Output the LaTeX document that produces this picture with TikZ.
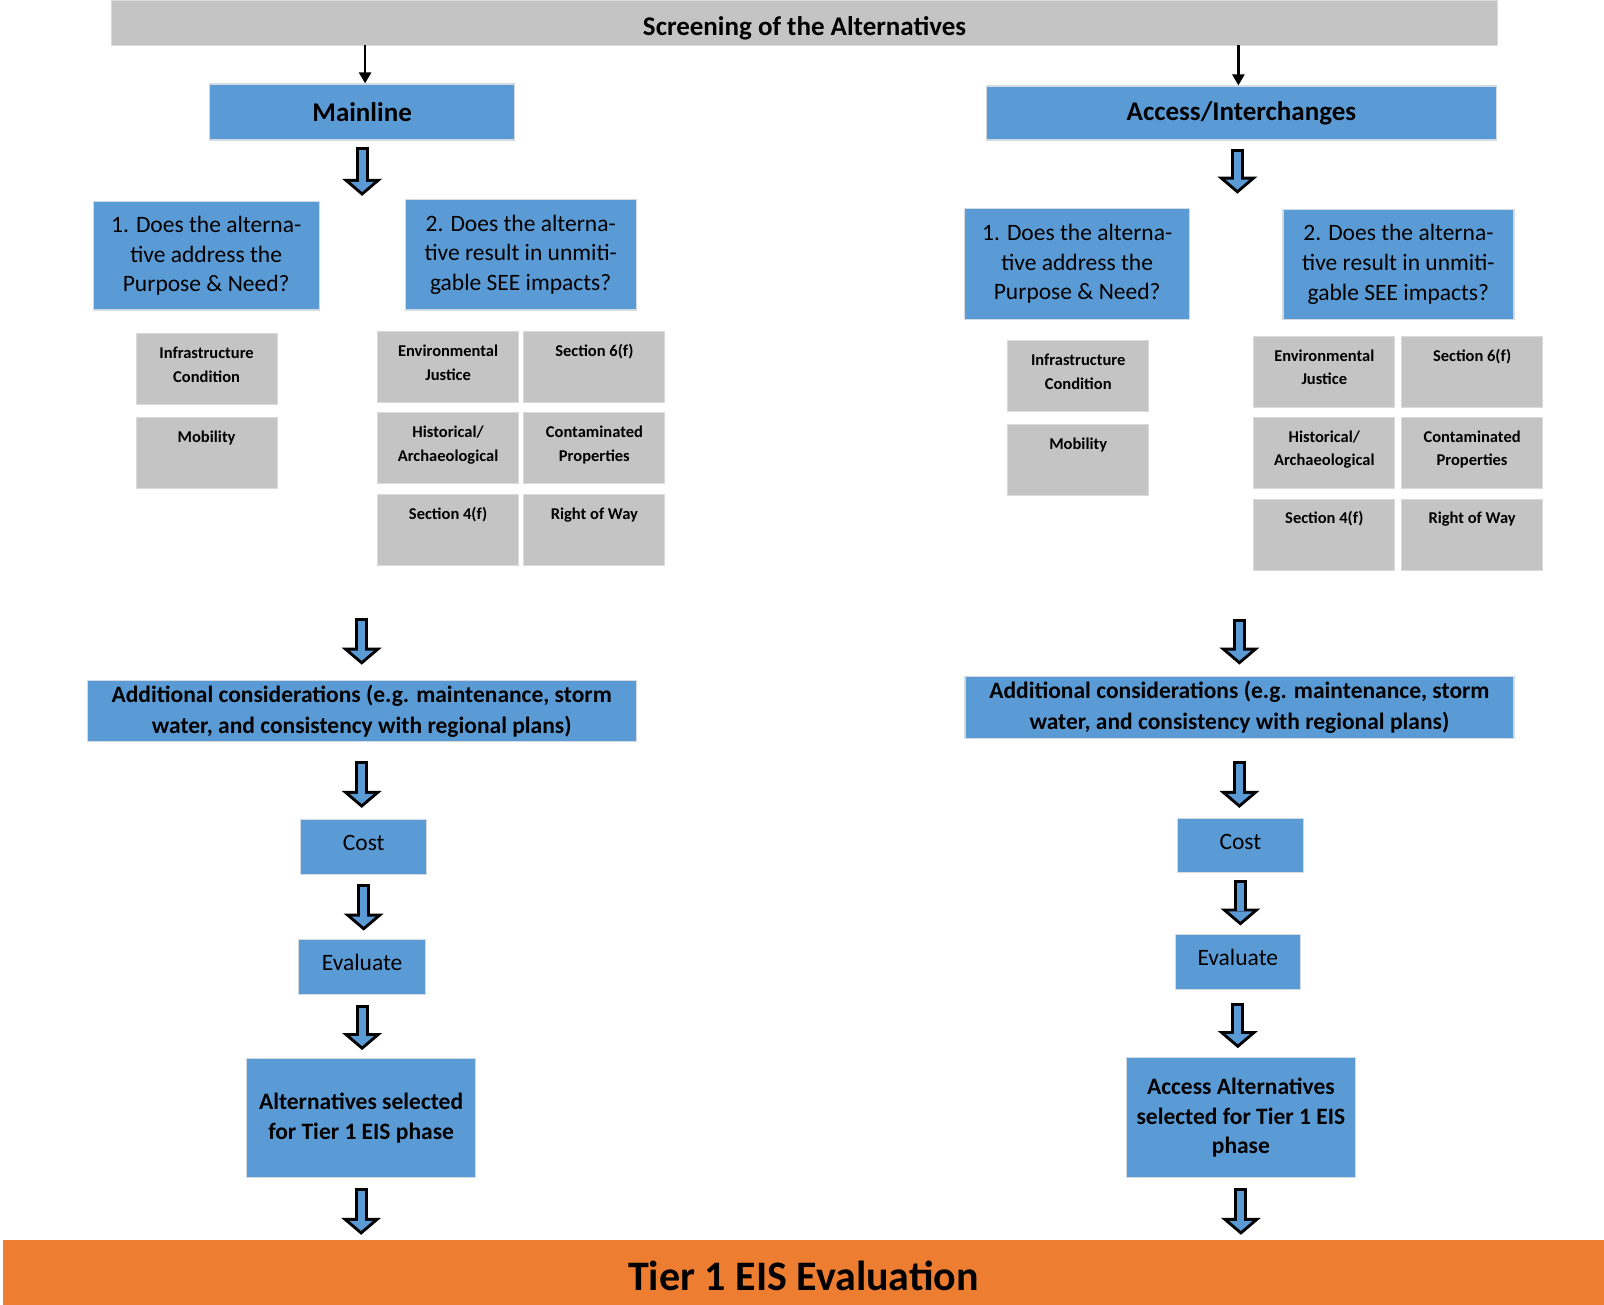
\documentclass[tikz,border=0pt]{standalone}
\usepackage{fontspec}
\setmainfont{Carlito}
\usetikzlibrary{arrows.meta}

\definecolor{boxblue}{HTML}{5B9BD5}
\definecolor{boxedge}{HTML}{D3DAE2}
\definecolor{boxgrey}{HTML}{C4C4C4}
\definecolor{greyedge}{HTML}{DADADA}
\definecolor{tierorange}{HTML}{ED7D31}

% text of the small grey boxes sits at the top
\newcommand\gtop[1]{\parbox[c][71pt][t]{141pt}{\centering\vspace{8.5pt}\strut#1}}

\tikzset{
  bluebox/.style={draw=boxedge, fill=boxblue, line width=1.2pt, inner sep=0pt, align=center,
    font=\fontsize{23.5}{29.7}\selectfont},
  greybox/.style={draw=greyedge, fill=boxgrey, line width=1pt, inner sep=0pt,
    font=\fontsize{16.5}{23.5}\selectfont\bfseries},
  thinarrow/.style={line width=2.5pt, -{Triangle[width=12pt,length=11pt]}},
  blockarrow/.style 2 args={draw=black, line width=13pt, shorten <=#1, shorten >=#2,
    -{Triangle[width=40pt,length=17pt,line width=0pt]},
    postaction={draw=boxblue, line width=7pt, shorten <=#1+3pt, shorten >=#2+3.94pt,
      -{Triangle[width=23.7pt,length=10.1pt,line width=0pt]}}}
}

\begin{document}
\begin{tikzpicture}[x=1pt,y=-1pt]
\useasboundingbox (0,0) rectangle (1604,1305);

% bars
\node[draw=greyedge, fill=boxgrey, minimum width=1386pt, minimum height=45pt, inner sep=0pt,
  text height=33pt, text depth=6pt,
  font=\fontsize{27}{32}\selectfont\bfseries] (screen) at (804.6,22.5) {Screening of the Alternatives};
\node[fill=tierorange, minimum width=1601pt, minimum height=65pt, inner sep=0pt,
  text height=41pt, text depth=6pt,
  font=\fontsize{42}{48}\selectfont\bfseries] (tier) at (803.5,1272.5) {Tier 1 EIS Evaluation};

% mainline
\node[bluebox, minimum width=305pt, minimum height=56pt, font=\fontsize{27}{32}\selectfont\bfseries] (mainline) at (362.1,112) {Mainline};
\node[bluebox, minimum width=226pt, minimum height=108.5pt] (q1l) at (206.2,255.8) {1. Does the alterna-\\tive address the\\Purpose \& Need?};
\node[bluebox, minimum width=231pt, minimum height=110.5pt] (q2l) at (520.7,254.7) {2. Does the alterna-\\tive result in unmiti-\\gable SEE impacts?};
\node[greybox] (infl) at (206.6,369.3) {\gtop{Infrastructure\\Condition}};
\node[greybox] (mobl) at (206.6,452.7) {\gtop{Mobility}};
\node[greybox] (ejl) at (448.1,367.3) {\gtop{Environmental\\Justice}};
\node[greybox] (s6l) at (594.4,367.3) {\gtop{Section 6(f)}};
\node[greybox] (hisl) at (448.1,448.1) {\gtop{Historical/\\Archaeological}};
\node[greybox] (conl) at (594.4,448.1) {\gtop{Contaminated\\Properties}};
\node[greybox] (s4l) at (448.1,530.4) {\gtop{Section 4(f)}};
\node[greybox] (rowl) at (594.4,530.4) {\gtop{Right of Way}};
\node[bluebox, minimum width=549pt, minimum height=61.4pt, font=\fontsize{23.5}{30.7}\selectfont\bfseries] (addl) at (361.7,711) {Additional considerations (e.g. maintenance, storm\\water, and consistency with regional plans)};
\node[bluebox, minimum width=126pt, minimum height=55pt, text depth=8pt] (costl) at (363.7,847) {Cost};
\node[bluebox, minimum width=127pt, minimum height=55pt, text depth=9pt] (evall) at (362.1,966.7) {Evaluate};
\node[bluebox, minimum width=229pt, minimum height=118.7pt, font=\fontsize{23.5}{29.7}\selectfont\bfseries] (altl) at (361.1,1118) {Alternatives selected\\for Tier 1 EIS phase};

% access / interchanges
\node[bluebox, minimum width=510.5pt, minimum height=54pt, font=\fontsize{27}{32}\selectfont\bfseries] (access) at (1241.4,113) {Access/Interchanges};
\node[bluebox, minimum width=225pt, minimum height=110.5pt] (q1r) at (1077.2,264) {1. Does the alterna-\\tive address the\\Purpose \& Need?};
\node[bluebox, minimum width=231pt, minimum height=109.5pt] (q2r) at (1398.4,264.5) {2. Does the alterna-\\tive result in unmiti-\\gable SEE impacts?};
\node[greybox] (infr) at (1078.2,376.5) {\gtop{Infrastructure\\Condition}};
\node[greybox] (mobr) at (1078.2,459.8) {\gtop{Mobility}};
\node[greybox] (ejr) at (1324.3,371.9) {\gtop{Environmental\\Justice}};
\node[greybox] (s6r) at (1472.1,371.9) {\gtop{Section 6(f)}};
\node[greybox] (hisr) at (1324.3,452.7) {\gtop{Historical/\\Archaeological}};
\node[greybox] (conr) at (1472.1,452.7) {\gtop{Contaminated\\Properties}};
\node[greybox] (s4r) at (1324.3,534.5) {\gtop{Section 4(f)}};
\node[greybox] (rowr) at (1472.1,534.5) {\gtop{Right of Way}};
\node[bluebox, minimum width=549pt, minimum height=62.4pt, font=\fontsize{23.5}{30.7}\selectfont\bfseries] (addr) at (1239.4,707.4) {Additional considerations (e.g. maintenance, storm\\water, and consistency with regional plans)};
\node[bluebox, minimum width=126pt, minimum height=54pt, text depth=8pt] (costr) at (1240.4,845.5) {Cost};
\node[bluebox, minimum width=125pt, minimum height=55pt, text depth=9pt] (evalr) at (1237.8,961.6) {Evaluate};
\node[bluebox, minimum width=229pt, minimum height=119.7pt, font=\fontsize{23.5}{29.7}\selectfont\bfseries] (accalt) at (1240.9,1117.6) {Access Alternatives\\selected for Tier 1 EIS\\phase};

% arrows
\draw[thinarrow] ([xshift=3pt]mainline.north |- screen.south) -- ([xshift=3pt]mainline.north);
\draw[thinarrow] ([xshift=-3pt]access.north |- screen.south) -- ([xshift=-3pt]access.north);

\draw[blockarrow={6.5pt}{3pt}] (mainline.south) -- (mainline.south |- q2l.north);
\draw[blockarrow={52pt}{15pt}] (addl.north |- s4l.south) -- (addl.north);
\draw[blockarrow={19pt}{11pt}] (addl.south) -- (addl.south |- costl.north);
\draw[blockarrow={9pt}{8pt}] (costl.south) -- (costl.south |- evall.north);
\draw[blockarrow={10pt}{8pt}] (evall.south) -- (evall.south |- altl.north);
\draw[blockarrow={10pt}{5pt}] (altl.south) -- (altl.south |- tier.north);

\draw[blockarrow={8pt}{14.5pt}] ([xshift=-4pt]access.south) -- ([xshift=-4pt]access.south |- q1r.north);
\draw[blockarrow={48pt}{11pt}] (addr.north |- s4r.south) -- (addr.north);
\draw[blockarrow={22pt}{10pt}] (addr.south) -- (addr.south |- costr.north);
\draw[blockarrow={7pt}{8pt}] (costr.south) -- (costr.south |- evalr.north);
\draw[blockarrow={13pt}{9pt}] (evalr.south) -- (evalr.south |- accalt.north);
\draw[blockarrow={10pt}{5pt}] (accalt.south) -- (accalt.south |- tier.north);
\end{tikzpicture}
\end{document}
